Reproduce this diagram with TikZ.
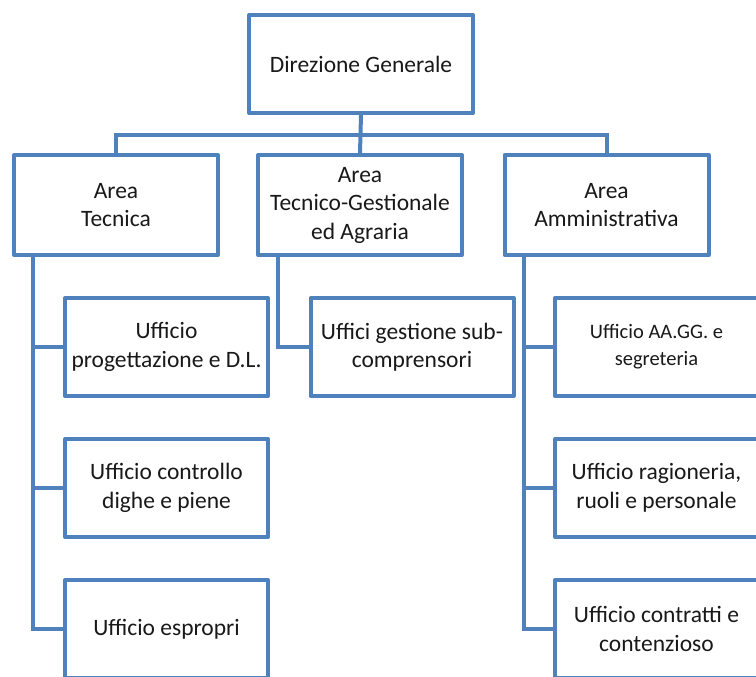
\documentclass[tikz,border=0pt]{standalone}
\usepackage{fontspec}
\setmainfont{Carlito}
\usetikzlibrary{positioning}
\definecolor{orgblue}{RGB}{79,129,189}
\newcommand{\orgfont}{\fontsize{23.5}{28.5}\selectfont}
\newcommand{\smallorgfont}{\fontsize{20.5}{27}\selectfont}

\begin{document}
\begin{tikzpicture}[
  x=1pt, y=-1pt,
  box node/.style={
    draw=orgblue, line width=4pt, line join=round, fill=white,
    align=center, inner sep=0pt, text=black!90, font=\orgfont
  },
  head node/.style={
    box node, minimum width=224pt, minimum height=98pt
  },
  area node/.style={
    box node, minimum width=204pt, minimum height=100pt
  },
  office node/.style={
    box node, minimum width=203pt, minimum height=98pt
  },
  link/.style={
    draw=orgblue, line width=4pt
  },
  node distance=39pt
  ]
  \useasboundingbox (0,0) rectangle (756,677);
  \clip (0,0) rectangle (756,677);

  \node[head node] (dg) at (361,64) {Direzione Generale};

  \node[area node] (at) at (116,205) {Area\\Tecnica};
  \node[area node] (atg) at (360,205) {Area\\Tecnico-Gestionale\\ed Agraria};
  \node[area node] (am) at (606.5,205) {Area\\Amministrativa};

  % area tecnica
  \node[office node] (u1) at (166.5,347) {Ufficio\\progettazione e D.L.};
  \node[office node, below=of u1] (u2) {Ufficio controllo\\dighe e piene};
  \node[office node, below=of u2] (u3) {Ufficio espropri};

  % area tecnico-gestionale
  \node[office node] (g1) at (412,347) {Uffici gestione sub-\\comprensori};

  % area amministrativa
  \node[office node, font=\smallorgfont] (a1) at (656.5,347) {Ufficio AA.GG. e\\segreteria};
  \node[office node, below=of a1] (a2) {Ufficio ragioneria,\\ruoli e personale};
  \node[office node, below=of a2] (a3) {Ufficio contratti e\\contenzioso};

  \draw[link] (at.north) -- ++(0,-18) -| (am.north);
  \draw[link] (dg.south) -- (atg.north);

  \draw[link] ([xshift=-83pt]at.south) |- (u3.west);
  \draw[link] ([xshift=-83pt]at.south |- u1.west) -- (u1.west);
  \draw[link] ([xshift=-83pt]at.south |- u2.west) -- (u2.west);

  \draw[link] ([xshift=-82pt]atg.south) |- (g1.west);

  \draw[link] ([xshift=-83pt]am.south) |- (a3.west);
  \draw[link] ([xshift=-83pt]am.south |- a1.west) -- (a1.west);
  \draw[link] ([xshift=-83pt]am.south |- a2.west) -- (a2.west);
\end{tikzpicture}
\end{document}
